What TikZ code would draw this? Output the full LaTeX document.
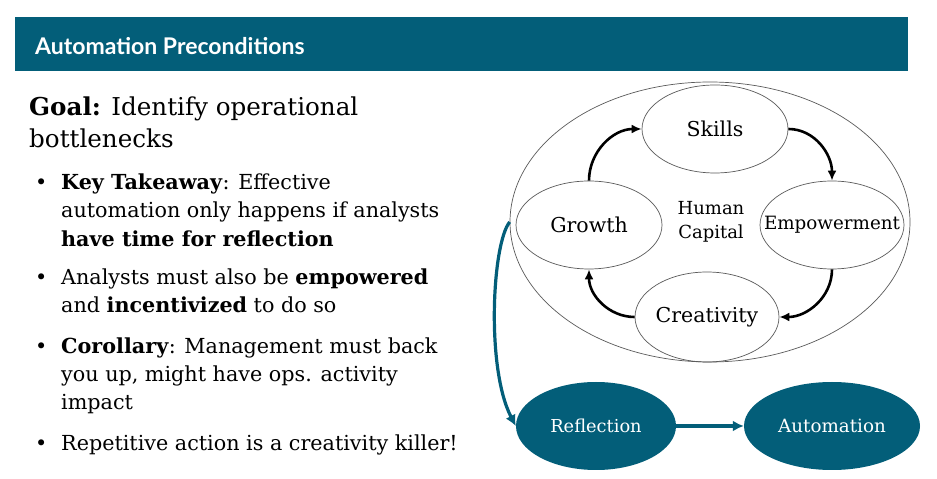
\documentclass[tikz,border=0pt]{standalone}
\usepackage{fontspec}
\setmainfont{DejaVu Serif}
\newfontfamily\headfont{Lato}
\usetikzlibrary{shapes.geometric,arrows.meta}
\definecolor{brandteal}{RGB}{3,94,121}
\definecolor{rimgray}{RGB}{90,90,90}
\begin{document}
\begin{tikzpicture}[x=1pt,y=1pt,
  tx/.style={font=\fontsize{#1}{#1}\selectfont},
  ring/.style={ellipse, draw=rimgray, line width=0.7pt, inner sep=0pt},
  goalnode/.style={ellipse, fill=brandteal, inner sep=0pt},
  cyclearrow/.style={line width=2.6pt, -{Latex[length=10pt,width=9pt]}},
  tealarrow/.style={draw=brandteal, line width=3.2pt, -{Latex[length=11pt,width=11pt]}},
  body/.style={anchor=base west, inner sep=0pt, tx=20.7},
  bigbody/.style={anchor=base west, inner sep=0pt, tx=24.6}]
\useasboundingbox (0,0) rectangle (937,479);
\fill[white] (0,0) rectangle (937,479);

% header bar
\node[fill=brandteal, minimum width=893pt, minimum height=54pt, inner sep=0pt, anchor=north west] (bar) at (15,462) {};
\node[anchor=west, inner sep=0pt, text=white, font=\headfont\bfseries\fontsize{23}{23}\selectfont] (title) at (35,433) {Automation Preconditions};

% left column text
\node[bigbody] (goal1) at (29,363) {\textbf{Goal:} Identify operational};
\node[bigbody] (goal2) at (29,331) {bottlenecks};

\node[body] (b1) at (35,289) {•};
\node[body] (t1a) at (61,289) {\textbf{Key Takeaway}: Effective};
\node[body] (t1b) at (61,261) {automation only happens if analysts};
\node[body] (t1c) at (61,232) {\textbf{have time for reflection}};

\node[body] (b2) at (35,194) {•};
\node[body] (t2a) at (61,194) {Analysts must also be \textbf{empowered}};
\node[body] (t2b) at (61,166) {and \textbf{incentivized} to do so};

\node[body] (b3) at (35,125) {•};
\node[body] (t3a) at (61,125) {\textbf{Corollary}: Management must back};
\node[body] (t3b) at (61,97) {you up, might have ops. activity};
\node[body] (t3c) at (61,69) {impact};

\node[body] (b4) at (35,28) {•};
\node[body] (t4a) at (61,28) {Repetitive action is a creativity killer!};

% human capital cycle
\node[ring, minimum width=400pt, minimum height=280pt] (outer) at (710,257) {};
\node[ring, minimum width=146pt, minimum height=88pt,
  label={[tx=20.5]center:Skills}] (skills) at (715,350) {};
\node[ring, minimum width=144pt, minimum height=88pt,
  label={[tx=18.3]center:Empowerment}] (empower) at (832,254) {};
\node[ring, minimum width=144pt, minimum height=90pt,
  label={[tx=20.5]center:Creativity}] (creative) at (707,162) {};
\node[ring, minimum width=146pt, minimum height=88pt,
  label={[tx=20.5]center:Growth}] (growth) at (589,254) {};
\node[align=center, inner sep=0pt, font=\fontsize{18}{24}\selectfont] (hc) at (711,257) {Human\\Capital};

\draw[cyclearrow] (growth.north) to[out=90,in=180] (skills.west);
\draw[cyclearrow] (skills.east) to[out=0,in=90] (empower.north);
\draw[cyclearrow] (empower.south) to[out=-90,in=0] (creative.east);
\draw[cyclearrow] (creative.west) to[out=180,in=-90] (growth.south);

% outcome chain
\node[goalnode, minimum width=160pt, minimum height=88pt,
  label={[text=white, tx=17.8]center:Reflection}] (reflect) at (596,53) {};
\node[goalnode, minimum width=176pt, minimum height=88pt,
  label={[text=white, tx=18.3]center:Automation}] (automate) at (832,53) {};

\draw[tealarrow] (outer.west) .. controls (492,235) and (486,110) .. (reflect.west);
\draw[tealarrow] (reflect.east) -- (automate.west);
\end{tikzpicture}
\end{document}
